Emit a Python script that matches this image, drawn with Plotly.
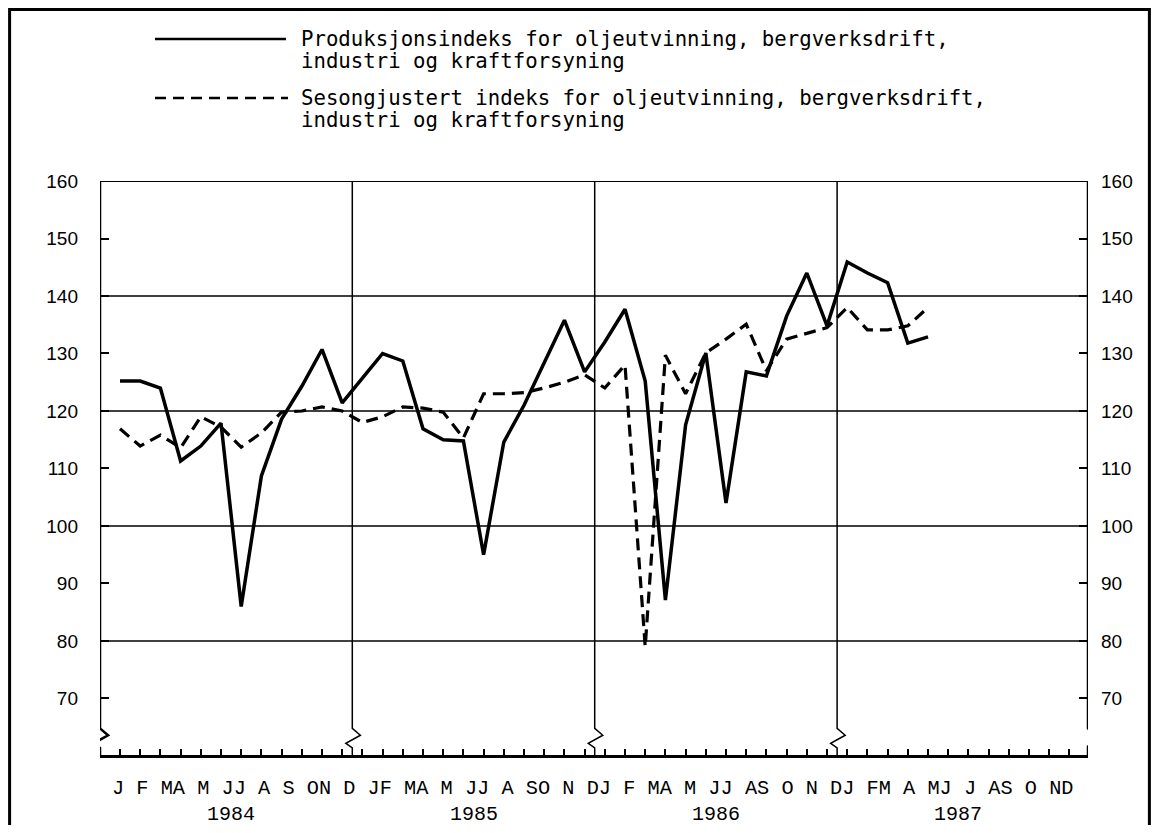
import plotly.graph_objects as go

# ---------------- data ----------------
# month index: 0 = Jan 1984 ... 40 = May 1987
months = list(range(41))

produksjonsindeks = [
    125.2, 125.2, 124.0, 111.3, 113.9, 117.9, 86.0, 108.7, 118.6, 124.3, 130.7, 121.4,   # 1984
    125.7, 130.0, 128.7, 116.9, 115.0, 114.8, 95.0, 114.6, 121.0, 128.5, 135.8, 126.8,   # 1985
    132.0, 137.7, 125.2, 87.1, 117.6, 130.1, 104.0, 126.8, 126.1, 136.5, 144.0, 134.8,   # 1986
    145.9, 144.0, 142.3, 131.8, 132.9,                                                   # 1987
]
sesongjustert = [
    116.9, 113.9, 115.8, 113.6, 119.0, 117.2, 113.7, 116.2, 119.8, 120.0, 120.7, 120.0,  # 1984
    118.0, 119.0, 120.7, 120.5, 119.8, 115.3, 123.0, 123.0, 123.2, 124.0, 125.0, 126.3,  # 1985
    124.0, 128.0, 79.0, 129.7, 123.0, 130.1, 132.5, 135.1, 127.0, 132.5, 133.5, 134.5,   # 1986
    138.0, 134.1, 134.1, 134.8, 138.0,                                                   # 1987
]

series_names = [
    ["Produksjonsindeks for oljeutvinning, bergverksdrift,", "industri og kraftforsyning"],
    ["Sesongjustert indeks for oljeutvinning, bergverksdrift,", "industri og kraftforsyning"],
]

y_tick_values = [70, 80, 90, 100, 110, 120, 130, 140, 150, 160]
y_tick_labels = ["70", "80", "90", "100", "110", "120", "130", "140", "150", "160"]
grid_values = [80, 100, 120, 140, 160]
month_ticks = list(range(48))
month_label_row = "J F MA M JJ A S ON D JF MA M JJ A SO N DJ F MA M JJ AS O N DJ FM A MJ J AS O ND"
years = ["1984", "1985", "1986", "1987"]
year_centers = [5.5, 17.5, 29.5, 41.5]
year_separators = [11.5, 23.5, 35.5]

# ---------------- layout geometry ----------------
# the page has an 8px body margin, so the figure is placed at (8, 8)
PAGE_OFF = 8
W, H = 1143, 817
PLOT_LEFT, PLOT_RIGHT, PLOT_TOP, PLOT_BOTTOM = 100, 1088, 181, 755   # page pixels
L = PLOT_LEFT - PAGE_OFF
T = PLOT_TOP - PAGE_OFF
R = W - (PLOT_RIGHT - PAGE_OFF)
B = H - (PLOT_BOTTOM - PAGE_OFF)
X_RANGE = [-0.99, 47.92]
Y_RANGE = [60.17, 160]


def px(xp):
    """page x pixel -> paper x"""
    return (xp - PLOT_LEFT) / (PLOT_RIGHT - PLOT_LEFT)


def py(yp):
    """page y pixel -> paper y"""
    return (PLOT_BOTTOM - yp) / (PLOT_BOTTOM - PLOT_TOP)


fig = go.Figure()
fig.add_trace(go.Scatter(
    x=months, y=produksjonsindeks, mode="lines",
    name=" ".join(series_names[0]), showlegend=False,
    line=dict(color="black", width=3.5),
))
fig.add_trace(go.Scatter(
    x=months, y=sesongjustert, mode="lines", yaxis="y2",
    name=" ".join(series_names[1]), showlegend=False,
    line=dict(color="black", width=3.2, dash="12px,7px"),
))

yax_common = dict(
    range=Y_RANGE, tickvals=y_tick_values, ticktext=y_tick_labels,
    ticks="inside", ticklen=9, tickwidth=2, tickcolor="black",
    showgrid=False, zeroline=False, showline=False,
    tickfont=dict(family="Liberation Sans", size=19, color="black"),
    fixedrange=True,
)

fig.update_layout(
    width=W, height=H,
    margin=dict(l=L, r=R, t=T, b=B, pad=0),
    paper_bgcolor="white", plot_bgcolor="white",
    xaxis=dict(
        range=X_RANGE, tickvals=month_ticks, ticks="inside", ticklen=6,
        tickwidth=2, tickcolor="black", showticklabels=False,
        showgrid=False, zeroline=False, showline=True, linewidth=2.5,
        linecolor="black", fixedrange=True,
    ),
    yaxis=dict(**yax_common, side="left", ticklabelstandoff=21),
    yaxis2=dict(**yax_common, side="right", overlaying="y", ticklabelstandoff=12),
)

shapes = []
# horizontal grid lines
for v in grid_values:
    shapes.append(dict(type="line", xref="x", yref="y", x0=X_RANGE[0], x1=X_RANGE[1],
                       y0=v, y1=v, line=dict(color="black", width=2 if v == 160 else 1.5)))


# vertical lines (axes and year separators) with break marks near the bottom
def broken_vline(x, width, direction):
    d = 0.4
    y0 = Y_RANGE[0]
    if direction == "right":
        path = f"M {x},160 L {x},64.8 L {x + d},63.3 L {x},61.6 L {x},{y0}"
    else:
        path = f"M {x},160 L {x},64.8 L {x + d},63.6 L {x - d * 0.8},62.2 L {x},61.4 L {x},{y0}"
    return dict(type="path", xref="x", yref="y", path=path,
                line=dict(color="black", width=width))


shapes.append(broken_vline(X_RANGE[0], 2.5, "zig"))
for s in year_separators:
    shapes.append(broken_vline(s, 1.5, "zig"))
shapes.append(broken_vline(X_RANGE[1], 2.5, "right"))

# legend samples
shapes.append(dict(type="line", xref="paper", yref="paper", x0=px(155), x1=px(286),
                   y0=py(39), y1=py(39), line=dict(color="black", width=2.5)))
shapes.append(dict(type="line", xref="paper", yref="paper", x0=px(155), x1=px(288),
                   y0=py(98), y1=py(98), line=dict(color="black", width=2.5, dash="11px,7px")))
# outer frame
shapes.append(dict(type="rect", xref="paper", yref="paper",
                   x0=px(PAGE_OFF + 1.6), x1=px(PAGE_OFF + W - 1.6),
                   y0=py(900), y1=py(PAGE_OFF + 1.6), line=dict(color="black", width=3)))
fig.update_layout(shapes=shapes)

annotations = []
legend_font = dict(family="DejaVu Sans Mono", size=20.7, color="black")
for lines, ys in zip(series_names, [(39, 61), (98, 120)]):
    for txt, yy in zip(lines, ys):
        annotations.append(dict(text=txt, xref="paper", yref="paper", x=px(299), y=py(yy),
                                xanchor="left", yanchor="middle", showarrow=False,
                                font=legend_font))

annotations.append(dict(text=month_label_row.replace(" ", "\u00a0"), xref="paper", yref="paper",
                        x=px(592.5), y=py(788), xanchor="center", yanchor="middle",
                        showarrow=False,
                        font=dict(family="Liberation Mono", size=20.3, color="black")))
for yr, c in zip(years, year_centers):
    annotations.append(dict(text=yr, xref="x", yref="paper", x=c, y=py(814),
                            xanchor="center", yanchor="middle", showarrow=False,
                            font=dict(family="Liberation Mono", size=20, color="black")))
fig.update_layout(annotations=annotations)

fig.write_html("out.html")
